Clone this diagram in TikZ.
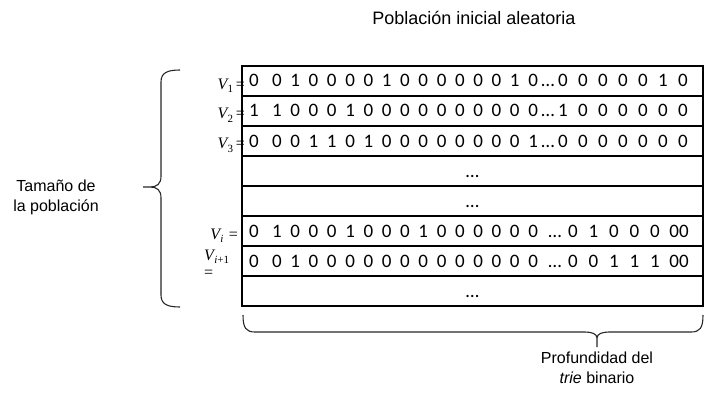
\documentclass[tikz,border=0pt]{standalone}
\usepackage{fontspec}
\setmainfont{Liberation Sans}
\newfontfamily\digitfont{Carlito}
\newfontfamily\mfont{Liberation Serif}
\newcommand\vsub[1]{{\mfont\itshape V}\kern0.3pt\raisebox{-3.5pt}{\mfont\fontsize{11}{11}\selectfont #1}}
\begin{document}
\begin{tikzpicture}[x=1pt,y=-1pt,
  rowbox/.style={draw=black, line width=1.6pt, minimum width=461pt, minimum height=30pt, inner sep=0pt},
  bracestyle/.style={line width=1.1pt, draw=black!85},
  lbl/.style={font=\fontsize{16}{20}\selectfont, align=center, inner sep=0pt},
  dig/.style={font=\digitfont\fontsize{19}{22}\selectfont, inner sep=0pt, anchor=base},
  vlab/.style={font=\mfont\fontsize{16}{18}\selectfont, inner sep=0pt, anchor=base east}]
\useasboundingbox (0,0) rectangle (705,396);

\node[font=\fontsize{18}{21}\selectfont, inner sep=0pt] (title) at (474,18) {Población inicial aleatoria};

% V labels (drawn first, table on top)
\node[vlab] (v1) at (245,89) {\vsub{1}\,=};
\node[vlab] (v2) at (245,119) {\vsub{2}\,=};
\node[vlab] (v3) at (245,149) {\vsub{3}\,=};
\node[vlab] (vi) at (238,239) {\vsub{\itshape i}\,\,=};
\node[vlab, anchor=base west] (vip) at (204,260) {\vsub{{\itshape i}+1}};
\node[vlab, anchor=base west] (vipeq) at (204,277) {=};

% table rows
\foreach \r in {1,...,8}{
  \node[rowbox] (row\r) at (472.5,{51+30*\r}) {};
}

% digit rows: 16 digits, tight ellipsis, 7 digits
\newcommand\drow[3]{% name, baseline y, list
  \foreach \t [count=\k from 0] in {#3}{
    \pgfmathsetmacro\xx{\k==0 ? 254 : (\k<16 ? 254+(\k+0.25)*18.3 : (\k==16 ? 548 : 563+(\k-17)*20))}
    \node[dig] (#1d\k) at (\xx,#2) {\t};
  }}
\drow{a}{87}{0,0,1,0,0,0,0,1,0,0,0,0,0,0,1,0,…,0,0,0,0,0,1,0}
\drow{b}{117}{1,1,0,0,0,1,0,0,0,0,0,0,0,0,0,0,…,1,0,0,0,0,0,0}
\drow{c}{147}{0,0,0,1,1,0,1,0,0,0,0,0,0,0,0,1,…,0,0,0,0,0,0,0}

% rows with spaced ellipsis and final "00"
\newcommand\srow[3]{% name, baseline y, list
  \foreach \t [count=\k from 0] in {#3}{
    \pgfmathsetmacro\xx{\k==0 ? 254 : (\k<16 ? 254+(\k+0.25)*18.3 : (\k==16 ? 555 : (\k<22 ? 573+(\k-17)*20.5 : 679)))}
    \node[dig] (#1d\k) at (\xx,#2) {\t};
  }}
\srow{i}{237}{0,1,0,0,0,1,0,0,0,1,0,0,0,0,0,0,…,0,1,0,0,0,00}
\srow{j}{267}{0,0,1,0,0,0,0,0,0,0,0,0,0,0,0,0,…,0,0,1,1,1,00}

\node[dig] (e1) at (472.5,177) {…};
\node[dig] (e2) at (472.5,207) {…};
\node[dig] (e3) at (472.5,297) {…};

% left brace
\draw[bracestyle] (180,70) .. controls (167,70) and (161,73) .. (161,82) -- (161,176)
  .. controls (161,184) and (157,187) .. (150,187) -- (143,187)
  (150,187) .. controls (157,187) and (161,190) .. (161,198) -- (161,295)
  .. controls (161,304) and (167,307) .. (180,307);
\node[lbl] (size) at (56,197) {Tamaño de\\la población};

% bottom brace
\draw[bracestyle] (243,315) .. controls (243,328) and (246,332) .. (255,332) -- (585,332)
  .. controls (592,332) and (597,334) .. (597,338) -- (597,347)
  (597,338) .. controls (597,334) and (602,332) .. (609,332) -- (691,332)
  .. controls (700,332) and (703,328) .. (703,315);
\node[lbl] (depth) at (597,368) {Profundidad del\\\textit{trie} binario};
\end{tikzpicture}
\end{document}
